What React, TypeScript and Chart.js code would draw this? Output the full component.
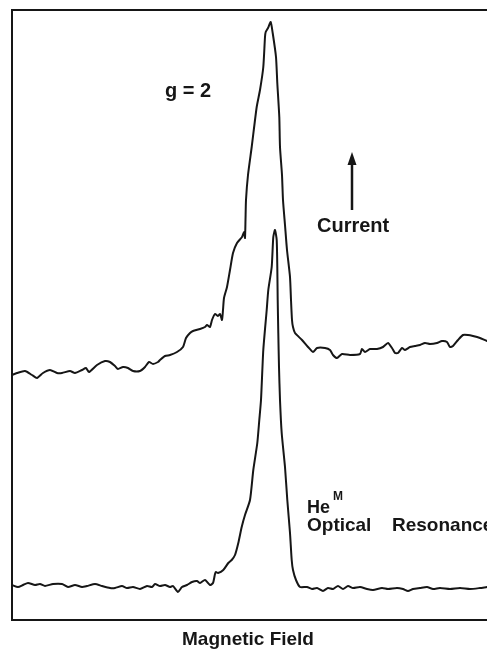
import React, { useEffect, useRef } from "react";
import { Chart, registerables } from "chart.js";

Chart.register(...registerables);

// Magnetic field (arbitrary units) and signals (arbitrary units)
const currentField = [0, 5, 13, 20, 25, 31, 38, 45, 50, 58, 63, 70, 74, 77, 85, 93, 98, 103, 106, 111, 116, 121, 128, 133, 137, 141, 146, 148, 153, 158, 165, 171, 174, 178, 181, 188, 193, 195, 198, 200, 203, 206, 208, 210, 211, 212, 215, 218, 221, 225, 230, 232, 233, 233.5, 234, 236, 239.7, 244.7, 248, 251.3, 253, 253.7, 256, 258.7, 260.7, 264, 265.3, 267.3, 268, 270, 271, 273, 275, 278, 279, 280, 281, 283, 290, 296, 301, 305, 313, 318, 321, 325, 330, 338, 348, 350, 353, 358, 365, 371, 376, 380, 383, 386, 390, 393, 398, 403, 408, 413, 418, 425, 430, 435, 438, 441, 446, 451, 456, 461, 468, 475, 483];
const currentSignal = [245, 247, 249, 245, 242, 247, 250, 247, 247, 249, 247, 250, 252, 248, 255, 259, 258, 254, 251, 253, 252, 249, 249, 253, 258, 256, 258, 260, 264, 265, 268, 273, 282, 287, 289, 291, 293, 295, 293, 300, 306, 304, 306, 300, 310, 322, 333, 350, 367, 377, 383, 388, 382, 400, 420, 445, 473, 513, 530, 553, 583, 588, 592, 598, 587, 563, 537, 503, 473, 445, 420, 395, 370, 343, 320, 300, 293, 287, 280, 273, 268, 272, 272, 270, 265, 262, 266, 265, 266, 271, 268, 271, 271, 273, 277, 272, 267, 267, 272, 270, 273, 274, 275, 277, 276, 277, 279, 278, 273, 274, 280, 285, 285, 284, 282, 279, 277];

const resonanceField = [0, 6, 11, 16, 23, 28, 33, 41, 50, 56, 63, 70, 75, 83, 90, 98, 103, 110, 115, 121, 128, 135, 140, 143, 148, 153, 158, 161, 166, 170, 175, 180, 185, 188, 193, 198, 201, 203, 204, 206, 211.3, 216.3, 219.7, 223, 226.3, 229.7, 233, 238, 241.3, 245.3, 247.3, 249, 251.3, 254.7, 256.3, 259.7, 261.3, 263, 264.7, 265.3, 265.7, 266.3, 267, 268, 269.7, 273, 275.3, 278, 279.7, 281, 284, 288, 295, 300, 305, 311, 316, 321, 326, 331, 336, 341, 348, 355, 361, 370, 376, 385, 391, 396, 401, 408, 415, 421, 428, 438, 448, 458, 468, 475, 483];
const resonanceSignal = [35, 33, 35, 37, 35, 36, 34, 36, 36, 33, 35, 33, 34, 36, 34, 32, 32, 34, 32, 33, 31, 34, 33, 36, 34, 35, 33, 34, 28, 33, 35, 38, 39, 37, 40, 35, 37, 46, 48, 47, 50, 57, 60, 65, 77, 93, 105, 120, 150, 177, 200, 220, 270, 310, 330, 353, 383, 390, 380, 353, 320, 287, 253, 220, 187, 153, 120, 87, 60, 50, 40, 33, 33, 31, 32, 29, 32, 31, 34, 31, 34, 32, 33, 31, 30, 32, 31, 32, 31, 29, 31, 32, 33, 31, 32, 31, 32, 31, 32, 33, 34];

const fieldRange = [0, 485];
const signalRange = [0, 610];

const INK = "#161616";
const FONT = "'Liberation Sans', Arial, sans-serif";

const toPoints = (xs: number[], ys: number[]) => xs.map((x, i) => ({ x, y: ys[i] }));

const framePlugin = {
  id: "frame",
  afterDatasetsDraw(chart: any) {
    const { ctx, chartArea } = chart;
    ctx.save();
    ctx.strokeStyle = INK;
    ctx.lineWidth = 2;
    ctx.strokeRect(chartArea.left, chartArea.top, chartArea.right - chartArea.left, chartArea.bottom - chartArea.top);
    ctx.restore();
  },
};

const labelsPlugin = {
  id: "labels",
  afterDraw(chart: any) {
    const { ctx } = chart;
    const xs = chart.scales.x;
    const ys = chart.scales.y;
    const px = (v: number) => xs.getPixelForValue(v);
    const py = (v: number) => ys.getPixelForValue(v);
    const text = (t: string, x: number, y: number, size: number, align: CanvasTextAlign = "left") => {
      ctx.font = `bold ${size}px ${FONT}`;
      ctx.textAlign = align;
      ctx.textBaseline = "alphabetic";
      ctx.fillStyle = INK;
      ctx.fillText(t, px(x), py(y));
    };
    ctx.save();
    text("g = 2", 153, 523, 20);
    text("Current", 305, 388, 20);
    text("He", 295, 107, 18);
    text("M", 321, 120, 12);
    text("Optical", 295, 89, 19);
    text("Resonance", 380, 89, 19);
    text("Magnetic Field", 236, -25, 19, "center");

    // arrow showing the "Current" direction
    const ax = px(340);
    const yBase = py(410);
    const yTip = py(468);
    const yHead = py(455);
    ctx.strokeStyle = INK;
    ctx.lineWidth = 2.5;
    ctx.beginPath();
    ctx.moveTo(ax, yBase);
    ctx.lineTo(ax, yHead);
    ctx.stroke();
    ctx.fillStyle = INK;
    ctx.beginPath();
    ctx.moveTo(ax, yTip);
    ctx.lineTo(ax - 4.5, yHead);
    ctx.lineTo(ax + 4.5, yHead);
    ctx.closePath();
    ctx.fill();
    ctx.restore();
  },
};

export default function App() {
  const ref = useRef<HTMLCanvasElement | null>(null);

  useEffect(() => {
    if (!ref.current) return;
    const chart = new Chart(ref.current, {
      type: "line",
      data: {
        datasets: [
          {
            label: "Current",
            data: toPoints(currentField, currentSignal),
            borderColor: INK,
            borderWidth: 2,
            pointRadius: 0,
            tension: 0.2,
            fill: false,
          },
          {
            label: "HeM Optical Resonance",
            data: toPoints(resonanceField, resonanceSignal),
            borderColor: INK,
            borderWidth: 2,
            pointRadius: 0,
            tension: 0.2,
            fill: false,
          },
        ],
      },
      options: {
        animation: false,
        responsive: false,
        devicePixelRatio: 1,
        layout: { padding: { left: 12, top: 10, right: 3, bottom: 32 } },
        plugins: { legend: { display: false }, tooltip: { enabled: false } },
        scales: {
          x: { type: "linear", min: fieldRange[0], max: fieldRange[1], display: false },
          y: { type: "linear", min: signalRange[0], max: signalRange[1], display: false },
        },
      },
      plugins: [framePlugin, labelsPlugin],
    });
    return () => chart.destroy();
  }, []);

  return (
    <div style={{ position: "absolute", left: 0, top: 0, width: 487, height: 652, overflow: "hidden", background: "#fff" }}>
      <canvas ref={ref} width={500} height={652} style={{ display: "block", width: 500, height: 652 }} />
    </div>
  );
}
